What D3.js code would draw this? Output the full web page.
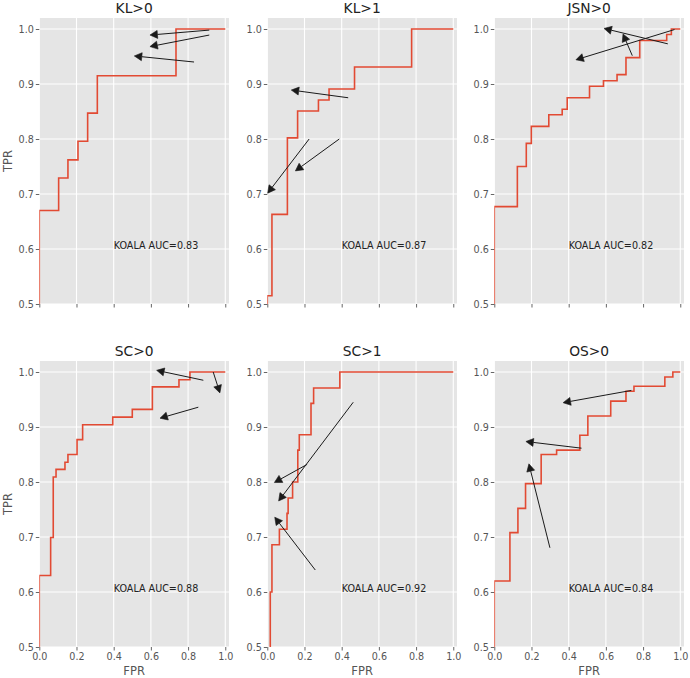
<!DOCTYPE html>
<html>
<head>
<meta charset="utf-8">
<script src="https://cdn.jsdelivr.net/npm/d3@7"></script>
<style>
  body { margin: 0; background: #fff; }
  svg { display: block; font-family: 'DejaVu Sans', sans-serif; }
</style>
</head>
<body>
<script>
// ROC step points (first point sits on the bottom edge)
const klGt0Fpr = [0, 0, 0.104, 0.154, 0.208, 0.260, 0.312, 0.735, 1.0];
const klGt0Tpr = [0.5, 0.670, 0.729, 0.762, 0.796, 0.847, 0.915, 1.0, 1.0];

const klGt1Fpr = [0, 0, 0.025, 0.108, 0.163, 0.275, 0.332, 0.469, 0.776, 1.0];
const klGt1Tpr = [0.5, 0.515, 0.663, 0.802, 0.851, 0.871, 0.891, 0.931, 1.0, 1.0];

const jsnGt0Fpr = [0, 0, 0.124, 0.172, 0.199, 0.293, 0.365, 0.392, 0.512, 0.587, 0.660, 0.708, 0.782, 0.927, 0.952, 1.0];
const jsnGt0Tpr = [0.5, 0.677, 0.750, 0.792, 0.823, 0.844, 0.854, 0.875, 0.896, 0.906, 0.917, 0.948, 0.979, 0.990, 1.0, 1.0];

const scGt0Fpr = [0, 0, 0.061, 0.075, 0.090, 0.138, 0.154, 0.203, 0.233, 0.395, 0.500, 0.608, 0.751, 0.810, 1.0];
const scGt0Tpr = [0.5, 0.630, 0.699, 0.809, 0.823, 0.836, 0.850, 0.877, 0.904, 0.918, 0.932, 0.973, 0.986, 1.0, 1.0];

const scGt1Fpr = [0.016, 0.016, 0.025, 0.065, 0.106, 0.112, 0.136, 0.164, 0.172, 0.235, 0.249, 0.390, 1.0];
const scGt1Tpr = [0.5, 0.600, 0.686, 0.714, 0.743, 0.771, 0.800, 0.858, 0.886, 0.943, 0.971, 1.0, 1.0];

const osGt0Fpr = [0, 0, 0.084, 0.127, 0.168, 0.252, 0.335, 0.460, 0.503, 0.626, 0.708, 0.751, 0.917, 0.960, 1.0];
const osGt0Tpr = [0.5, 0.620, 0.708, 0.752, 0.797, 0.850, 0.858, 0.885, 0.920, 0.947, 0.965, 0.974, 0.991, 1.0, 1.0];

// annotation arrows: [tailFpr, tailTpr, tipFpr, tipTpr]
const klGt0Arrows = [[0.914, 0.998, 0.595, 0.989], [0.914, 0.989, 0.595, 0.968], [0.832, 0.940, 0.511, 0.951]];
const klGt1Arrows = [[0.435, 0.875, 0.129, 0.889], [0.225, 0.800, 0.002, 0.7015], [0.387, 0.800, 0.151, 0.742]];
const jsnGt0Arrows = [[0.933, 0.973, 0.590, 1.001], [0.969, 0.999, 0.439, 0.944], [0.742, 0.9515, 0.692, 0.991]];
const scGt0Arrows = [[0.882, 0.985, 0.631, 1.003], [0.935, 1.000, 0.971, 0.962], [0.855, 0.936, 0.649, 0.916]];
const scGt1Arrows = [[0.214, 0.832, 0.038, 0.799], [0.462, 0.945, 0.061, 0.7655], [0.258, 0.640, 0.040, 0.736]];
const osGt0Arrows = [[0.737, 0.9665, 0.370, 0.9442], [0.469, 0.8615, 0.170, 0.8736], [0.299, 0.6804, 0.186, 0.833]];

const titles = ['KL>0', 'KL>1', 'JSN>0', 'SC>0', 'SC>1', 'OS>0'];
const aucValues = ['0.83', '0.87', '0.82', '0.88', '0.92', '0.84'];
const xTicks = [0, 0.2, 0.4, 0.6, 0.8, 1.0];
const yTicks = [0.5, 0.6, 0.7, 0.8, 0.9, 1.0];

const panels = [
  [klGt0Fpr, klGt0Tpr, klGt0Arrows],
  [klGt1Fpr, klGt1Tpr, klGt1Arrows],
  [jsnGt0Fpr, jsnGt0Tpr, jsnGt0Arrows],
  [scGt0Fpr, scGt0Tpr, scGt0Arrows],
  [scGt1Fpr, scGt1Tpr, scGt1Arrows],
  [osGt0Fpr, osGt0Tpr, osGt0Arrows],
].map((p, i) => ({ fpr: p[0], tpr: p[1], arrows: p[2], title: titles[i], auc: aucValues[i] }));

const config = {
  size: { width: 690, height: 678 },
  colLeft: [39.3, 267.3, 494.3],
  rowTop: [18, 361],
  plot: { width: 189.7, height: 286 },
  lineColor: '#E24A33',
  bg: '#E5E5E5',
  tickColor: '#555',
};

const svg = d3.select('body').append('svg')
  .attr('width', config.size.width)
  .attr('height', config.size.height);

const x = d3.scaleLinear().domain([0, 1.02]).range([0, config.plot.width]);
const y = d3.scaleLinear().domain([0.5, 1.02]).range([config.plot.height, 0]);

const line = d3.line()
  .x(d => x(d[0]))
  .y(d => y(d[1]))
  .curve(d3.curveStepAfter);

function drawArrow(g, a) {
  const x0 = x(a[0]), y0 = y(a[1]), x1 = x(a[2]), y1 = y(a[3]);
  const len = Math.hypot(x1 - x0, y1 - y0);
  const ux = (x1 - x0) / len, uy = (y1 - y0) / len;
  const headLen = 7.5, headHalf = 4;
  const bx = x1 - ux * headLen, by = y1 - uy * headLen;
  g.append('line')
    .attr('x1', x0).attr('y1', y0).attr('x2', bx).attr('y2', by)
    .attr('stroke', '#1a1a1a').attr('stroke-width', 1);
  g.append('path')
    .attr('d', `M${x1},${y1}L${bx - uy * headHalf},${by + ux * headHalf}L${bx + uy * headHalf},${by - ux * headHalf}Z`)
    .attr('fill', '#1a1a1a')
    .attr('stroke', '#1a1a1a')
    .attr('stroke-width', 0.6);
}

panels.forEach((p, i) => {
  const col = i % 3;
  const row = Math.floor(i / 3);
  const g = svg.append('g')
    .attr('transform', `translate(${config.colLeft[col]}, ${config.rowTop[row]})`);

  g.append('rect')
    .attr('width', config.plot.width)
    .attr('height', config.plot.height)
    .attr('fill', config.bg);

  // grid
  g.selectAll('.vgrid').data(xTicks).enter().append('line')
    .attr('x1', d => x(d)).attr('x2', d => x(d))
    .attr('y1', 0).attr('y2', config.plot.height)
    .attr('stroke', '#fff').attr('stroke-width', 1.1);
  g.selectAll('.hgrid').data(yTicks).enter().append('line')
    .attr('y1', d => y(d)).attr('y2', d => y(d))
    .attr('x1', 0).attr('x2', config.plot.width)
    .attr('stroke', '#fff').attr('stroke-width', 1.1);

  // axes
  const yAxis = d3.axisLeft(y).tickValues(yTicks).tickFormat(d3.format('.1f'))
    .tickSize(3.5).tickPadding(2);
  const yg = g.append('g').call(yAxis);
  const xAxis = d3.axisBottom(x).tickValues(xTicks).tickSize(3.5).tickPadding(2.5)
    .tickFormat(row === 1 ? d3.format('.1f') : '');
  const xg = g.append('g').attr('transform', `translate(0, ${config.plot.height})`).call(xAxis);
  [yg, xg].forEach((ax) => {
    ax.select('.domain').remove();
    ax.selectAll('line').attr('stroke', config.tickColor).attr('stroke-width', 0.9);
    ax.selectAll('text').attr('fill', config.tickColor)
      .style('font-size', '9.6px').style('font-family', "'DejaVu Sans', sans-serif");
  });

  // ROC curve
  const clipId = `clip-${i}`;
  g.append('clipPath').attr('id', clipId)
    .append('rect').attr('width', config.plot.width).attr('height', config.plot.height);
  g.append('path')
    .datum(p.fpr.map((f, k) => [f, p.tpr[k]]))
    .attr('clip-path', `url(#${clipId})`)
    .attr('d', line)
    .attr('fill', 'none')
    .attr('stroke', config.lineColor)
    .attr('stroke-width', 1.6);

  // arrows
  p.arrows.forEach(a => drawArrow(g, a));

  // AUC label
  g.append('text')
    .attr('x', x(0.4)).attr('y', y(0.6))
    .attr('fill', '#222')
    .style('font-size', '9.6px')
    .text(`KOALA AUC=${p.auc}`);

  // title
  g.append('text')
    .attr('x', config.plot.width / 2).attr('y', -5.3)
    .attr('text-anchor', 'middle')
    .attr('fill', '#222')
    .style('font-size', '13.8px')
    .text(p.title);

  if (col === 0) {
    g.append('text')
      .attr('transform', `translate(${-31.5}, ${config.plot.height / 2}) rotate(-90)`)
      .attr('text-anchor', 'middle')
      .attr('dy', '0.35em')
      .attr('fill', config.tickColor)
      .style('font-size', '11.5px')
      .text('TPR');
  }
  if (row === 1) {
    g.append('text')
      .attr('x', config.plot.width / 2).attr('y', config.plot.height + 24)
      .attr('text-anchor', 'middle')
      .attr('dy', '0.35em')
      .attr('fill', config.tickColor)
      .style('font-size', '11.5px')
      .text('FPR');
  }
});
</script>
</body>
</html>
